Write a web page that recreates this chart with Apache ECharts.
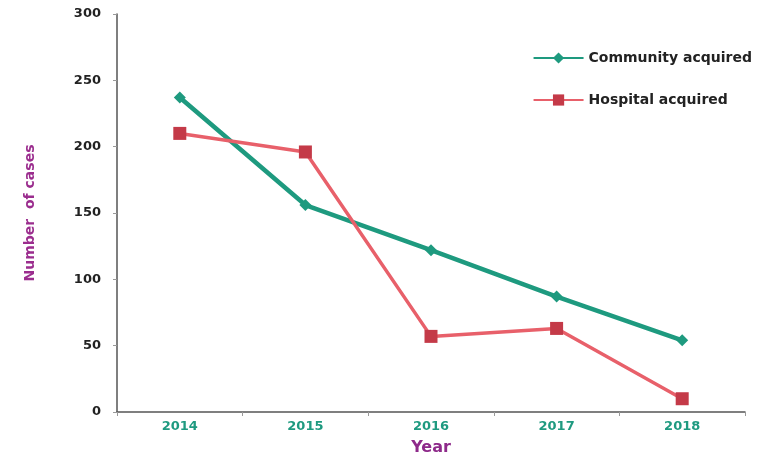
<!DOCTYPE html>
<html><head><meta charset="utf-8">
<script src="https://cdn.jsdelivr.net/npm/echarts@6/dist/echarts.min.js"></script>
<style>html,body{margin:0;padding:0;background:#fff}#c{width:779px;height:461px}</style>
</head><body><div id="c"></div>
<script>
const years = ['2014','2015','2016','2017','2018'];
const community = [237, 156, 122, 87, 54];
const hospital = [210, 196, 57, 63, 10];
const yTicks = [0, 50, 100, 150, 200, 250, 300];

const chart = echarts.init(document.getElementById('c'));
const font = '"DejaVu Sans", sans-serif';
chart.setOption({
  animation: false,
  grid: {left: 117, right: 34, top: 14, bottom: 45},
  legend: {
    orient: 'vertical', right: 22, top: 46, itemGap: 28,
    itemWidth: 50, itemHeight: 14,
    textStyle: {fontFamily: font, fontWeight: 'bold', fontSize: 14, color: '#222'},
    data: ['Community acquired', 'Hospital acquired']
  },
  xAxis: {
    type: 'category', data: years, boundaryGap: true,
    name: 'Year', nameLocation: 'middle', nameGap: 28,
    nameTextStyle: {color: '#8e2a8a', fontFamily: font, fontWeight: 'bold', fontSize: 16},
    axisLine: {lineStyle: {color: '#555', width: 1.5}},
    axisTick: {show: true, length: 4, lineStyle: {color: '#999'}},
    axisLabel: {color: '#1f9a80', fontFamily: font, fontWeight: 'bold', fontSize: 13, margin: 8}
  },
  yAxis: {
    type: 'value', min: yTicks[0], max: yTicks[yTicks.length-1], interval: 50,
    name: 'Number  of cases', nameLocation: 'middle', nameGap: 80, nameRotate: 90,
    nameTextStyle: {color: '#9b2d8e', fontFamily: font, fontWeight: 'bold', fontSize: 14},
    axisLine: {show: true, lineStyle: {color: '#555', width: 1.5}},
    axisTick: {show: true, length: 4, lineStyle: {color: '#999'}},
    splitLine: {show: false},
    axisLabel: {color: '#222', fontFamily: font, fontWeight: 'bold', fontSize: 13, margin: 16}
  },
  series: [
    {name: 'Community acquired', type: 'line', data: community,
     symbol: 'diamond', symbolSize: 12,
     lineStyle: {color: '#1e9a7f', width: 4.5},
     itemStyle: {color: '#1e9a7f'}},
    {name: 'Hospital acquired', type: 'line', data: hospital,
     symbol: 'rect', symbolSize: 13,
     lineStyle: {color: '#e8606a', width: 3.5},
     itemStyle: {color: '#c43a48'}}
  ]
});
</script></body></html>
